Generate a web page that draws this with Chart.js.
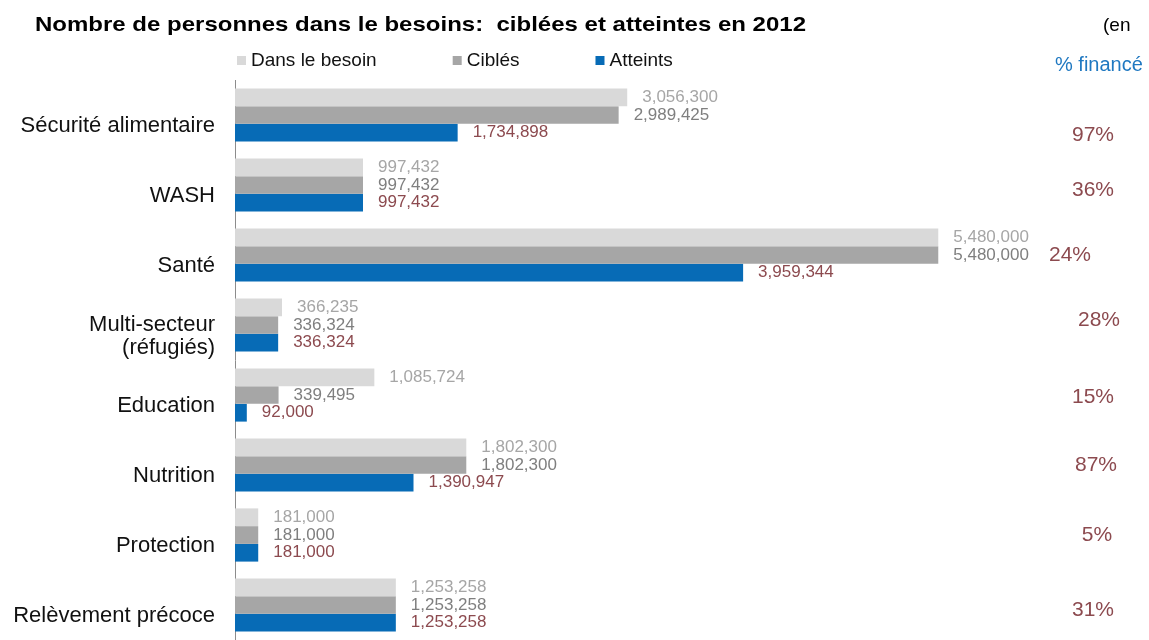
<!DOCTYPE html>
<html>
<head>
<meta charset="utf-8">
<script src="https://cdn.jsdelivr.net/npm/chart.js@4.4.0/dist/chart.umd.min.js"></script>
<style>
    body { margin: 0; background: #fff; }
    #wrap { width: 1149px; height: 640px; }
</style>
</head>
<body>
<div id="wrap"><canvas id="chart"></canvas></div>
<script>
const sectors = ['Sécurité alimentaire', 'WASH', 'Santé', ['Multi-secteur', '(réfugiés)'], 'Education', 'Nutrition', 'Protection', 'Relèvement précoce'];
const inNeed = [3056300, 997432, 5480000, 366235, 1085724, 1802300, 181000, 1253258];
const targeted = [2989425, 997432, 5480000, 336324, 339495, 1802300, 181000, 1253258];
const reached = [1734898, 997432, 3959344, 336324, 92000, 1390947, 181000, 1253258];
const funded = [97, 36, 24, 28, 15, 87, 5, 31];
const seriesNames = ['Dans le besoin', 'Ciblés', 'Atteints'];
const title = 'Nombre de personnes dans le besoins:  ciblées et atteintes en 2012';

const FONT = '"Liberation Sans", Arial, sans-serif';
const barColors = ['#D9D9D9', '#A6A6A6', '#076BB6'];
const labelColors = ['#A6A6A6', '#7F7F7F', '#8C4A4F'];
// hand-placed text boxes in the original, small nudges (x, y)
const pctNudge = [[0, 20], [0, 5], [-23, 0], [6, -5], [0, 2], [3, 0], [4, 0], [0, 5]];

const extras = {
    id: 'extras',
    afterDatasetsDraw(chart) {
        let ctx = chart.ctx;
        let area = chart.chartArea;
        ctx.save();

        // value labels next to each bar
        ctx.font = '17px ' + FONT;
        ctx.textAlign = 'left';
        ctx.textBaseline = 'middle';
        chart.data.datasets.forEach((ds, di) => {
            ctx.fillStyle = labelColors[di];
            chart.getDatasetMeta(di).data.forEach((bar, i) => {
                ctx.fillText(ds.data[i].toLocaleString('en-US'), bar.x + 15, bar.y);
            });
        });

        // % financé column
        let yScale = chart.scales.y;
        ctx.font = '21px ' + FONT;
        ctx.textAlign = 'center';
        ctx.fillStyle = '#8C4A4F';
        funded.forEach((p, i) => {
            ctx.fillText(p + '%', area.right + 88 + pctNudge[i][0], yScale.getPixelForValue(i) + pctNudge[i][1]);
        });

        // title (the original is a bit wide, stretch it horizontally)
        ctx.textAlign = 'left';
        ctx.fillStyle = '#000';
        ctx.font = 'bold 21px ' + FONT;
        let sx = 771 / ctx.measureText(title).width;
        ctx.save();
        ctx.translate(35, 25);
        ctx.scale(sx, 1);
        ctx.fillText(title, 0, 0);
        ctx.restore();

        ctx.font = '19px ' + FONT;
        ctx.fillText('(en', 1103, 26);
        ctx.fillStyle = '#1F78C1';
        ctx.font = '20px ' + FONT;
        ctx.fillText('% financé', 1055, 65);

        // legend
        ctx.font = '19px ' + FONT;
        let x = area.left + 2;
        chart.data.datasets.forEach((ds, di) => {
            ctx.fillStyle = barColors[di];
            ctx.fillRect(x, 56, 9, 9);
            ctx.fillStyle = '#111';
            ctx.fillText(ds.label, x + 14, 61);
            x += 14 + ctx.measureText(ds.label).width + 76;
        });
        ctx.restore();
    }
};

new Chart(document.getElementById('chart'), {
    type: 'bar',
    data: {
        labels: sectors,
        datasets: [
            { label: seriesNames[0], data: inNeed, backgroundColor: barColors[0] },
            { label: seriesNames[1], data: targeted, backgroundColor: barColors[1] },
            { label: seriesNames[2], data: reached, backgroundColor: barColors[2] }
        ]
    },
    options: {
        indexAxis: 'y',
        responsive: true,
        maintainAspectRatio: false,
        animation: false,
        categoryPercentage: 0.76,
        barPercentage: 1.0,
        layout: { padding: { top: 80, right: 144, bottom: 0, left: 0 } },
        plugins: {
            legend: { display: false },
            title: { display: false },
            tooltip: { enabled: false }
        },
        scales: {
            x: { display: false, min: 0, max: 6000000 },
            y: {
                grid: { display: false },
                border: { display: true, color: '#8C8C8C', width: 1 },
                ticks: {
                    color: '#111',
                    padding: 12,
                    labelOffset: 11,
                    font: { family: FONT, size: 22, lineHeight: 1.05 }
                },
                afterFit: function(scale) {
                    scale.width = 235;
                    scale.paddingTop = 0;
                    scale.paddingBottom = 0;
                }
            }
        }
    },
    plugins: [extras]
});
</script>
</body>
</html>
